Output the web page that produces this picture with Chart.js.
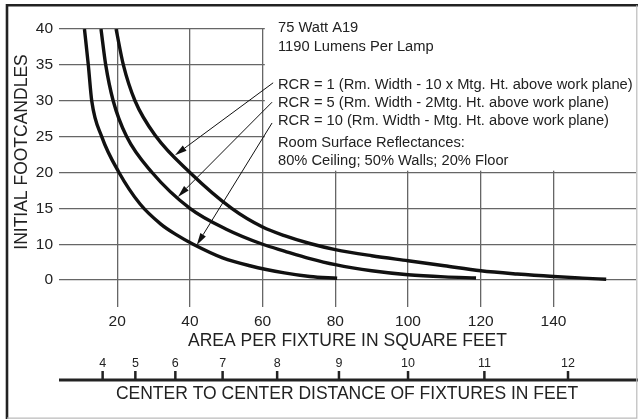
<!DOCTYPE html>
<html>
<head>
<meta charset="utf-8">
<script src="https://cdn.jsdelivr.net/npm/chart.js@4.4.0/dist/chart.umd.min.js"></script>
<style>
    html, body { margin: 0; padding: 0; background: #fff; }
    canvas { display: block; }
</style>
</head>
<body>
<canvas id="footcandleChart" width="638" height="419"></canvas>
<script>
// curves (y is in plot units: the gridline labelled "0" sits at 5)
const areaRcr1 = [19.7, 21.7, 24.9, 30.7, 40, 51.5, 60, 66, 73, 80, 90, 100, 110, 120, 130, 140, 148, 154.5];
const fcRcr1 = [40, 35, 30, 25, 20, 15, 12.4, 11.2, 10.1, 9.25, 8.4, 7.7, 7.0, 6.3, 5.85, 5.5, 5.28, 5.12];

const areaRcr5 = [15.55, 16.85, 18.9, 22.6, 29.6, 40, 50, 60, 66, 73, 80, 90, 100, 110, 118.7];
const fcRcr5 = [40, 35, 30, 25, 20, 15, 12.1, 10, 9.05, 8.0, 7.15, 6.3, 5.75, 5.45, 5.3];

const areaRcr10 = [11, 12.06, 13, 15.75, 20.5, 26.3, 32, 36, 40.9, 49, 56.5, 66, 73, 80.5];
const fcRcr10 = [40, 35, 30, 25, 20, 15.6, 12.8, 11.4, 10, 8.1, 7.0, 6.0, 5.5, 5.25];

const areaTicks = [20, 40, 60, 80, 100, 120, 140];
const fcTicks = [5, 10, 15, 20, 25, 30, 35, 40];
const fcTickLabels = ['0', '10', '15', '20', '25', '30', '35', '40'];
const spacingTicks = [4, 5, 6, 7, 8, 9, 10, 11, 12];

const noteLines = [
    '75 Watt A19',
    '1190 Lumens Per Lamp',
    'RCR = 1 (Rm. Width - 10 x Mtg. Ht. above work plane)',
    'RCR = 5 (Rm. Width - 2Mtg. Ht. above work plane)',
    'RCR = 10 (Rm. Width - Mtg. Ht. above work plane)',
    'Room Surface Reflectances:',
    '80% Ceiling; 50% Walls; 20% Floor'
];

// arrows from the RCR notes to the curves: [fromX, fromY, toX, toY] in data units
const arrowLinks = [
    [62.9, 32.5, 35.9, 22.4],
    [62.6, 29.8, 36.7, 16.6],
    [62.6, 26.9, 41.9, 9.9]
];

const FONT = '"Liberation Sans", Arial, sans-serif';

function toPoints(xs, ys) {
    return xs.map((x, i) => ({ x: x, y: ys[i] }));
}

const chartDecor = {
    id: 'chartDecor',
    beforeDatasetsDraw(chart) {
        // white panel behind the notes hides the grid in the upper right
        const ctx = chart.ctx;
        const a = chart.chartArea;
        const x = chart.scales.x;
        const y = chart.scales.y;
        const left = x.getPixelForValue(60.6);
        const bottom = y.getPixelForValue(20.25);
        ctx.save();
        ctx.fillStyle = '#fff';
        ctx.fillRect(left, a.top - 3, a.right - left + 3, bottom - a.top + 3);
        ctx.restore();
    },
    afterDatasetsDraw(chart) {
        const ctx = chart.ctx;
        const x = chart.scales.x;
        const y = chart.scales.y;
        ctx.save();
        ctx.strokeStyle = '#111';
        ctx.fillStyle = '#111';
        ctx.lineWidth = 1;
        arrowLinks.forEach((l) => {
            const x1 = x.getPixelForValue(l[0]), y1 = y.getPixelForValue(l[1]);
            const x2 = x.getPixelForValue(l[2]), y2 = y.getPixelForValue(l[3]);
            const ang = Math.atan2(y2 - y1, x2 - x1);
            const len = 12, hw = 3.2;
            ctx.beginPath();
            ctx.moveTo(x1, y1);
            ctx.lineTo(x2 - Math.cos(ang) * len, y2 - Math.sin(ang) * len);
            ctx.stroke();
            ctx.beginPath();
            ctx.moveTo(x2, y2);
            ctx.lineTo(x2 - Math.cos(ang) * len - Math.sin(ang) * hw, y2 - Math.sin(ang) * len + Math.cos(ang) * hw);
            ctx.lineTo(x2 - Math.cos(ang) * len + Math.sin(ang) * hw, y2 - Math.sin(ang) * len - Math.cos(ang) * hw);
            ctx.closePath();
            ctx.fill();
        });
        ctx.restore();
    },
    afterDraw(chart) {
        const ctx = chart.ctx;
        const a = chart.chartArea;
        const x = chart.scales.x;
        ctx.save();

        // notes
        ctx.fillStyle = '#222';
        ctx.font = '14.7px ' + FONT;
        ctx.textAlign = 'left';
        ctx.textBaseline = 'alphabetic';
        const baselines = [32.3, 50.7, 89, 107, 125, 147, 165];
        noteLines.forEach((t, i) => ctx.fillText(t, 278, baselines[i]));

        // y title
        ctx.save();
        ctx.translate(22, 152);
        ctx.rotate(-Math.PI / 2);
        ctx.font = '17.5px ' + FONT;
        ctx.textAlign = 'center';
        ctx.textBaseline = 'middle';
        ctx.fillText('INITIAL FOOTCANDLES', 0, 0);
        ctx.restore();

        // center-to-center spacing axis, placed at spacing squared on the area scale
        const axisY = 380;
        ctx.strokeStyle = '#222';
        ctx.lineWidth = 3;
        ctx.beginPath();
        ctx.moveTo(a.left, axisY);
        ctx.lineTo(chart.width, axisY);
        ctx.stroke();
        ctx.lineWidth = 2.5;
        ctx.font = '12.5px ' + FONT;
        ctx.textAlign = 'center';
        ctx.textBaseline = 'middle';
        spacingTicks.forEach((d) => {
            const px = x.getPixelForValue(d * d);
            ctx.beginPath();
            ctx.moveTo(px, axisY - 9);
            ctx.lineTo(px, axisY);
            ctx.stroke();
            ctx.fillText(String(d), px, 364);
        });
        ctx.font = '17.5px ' + FONT;
        ctx.fillText('CENTER TO CENTER DISTANCE OF FIXTURES IN FEET', 347, 394);

        // frame
        ctx.strokeStyle = '#222';
        ctx.lineWidth = 2.6;
        ctx.beginPath();
        ctx.moveTo(7, chart.height);
        ctx.lineTo(7, 5.3);
        ctx.lineTo(chart.width, 5.3);
        ctx.stroke();
        ctx.strokeStyle = '#bbb';
        ctx.lineWidth = 1.2;
        ctx.beginPath();
        ctx.moveTo(7, chart.height - 0.8);
        ctx.lineTo(chart.width - 1.2, chart.height - 0.8);
        ctx.lineTo(chart.width - 1.2, 5.3);
        ctx.stroke();
        ctx.restore();
    }
};

const curveStyle = {
    borderColor: '#111',
    borderWidth: 3.4,
    pointRadius: 0,
    fill: false,
    cubicInterpolationMode: 'monotone'
};

const ctx = document.getElementById('footcandleChart').getContext('2d');
new Chart(ctx, {
    type: 'line',
    data: {
        datasets: [
            Object.assign({ label: 'RCR = 1', data: toPoints(areaRcr1, fcRcr1) }, curveStyle),
            Object.assign({ label: 'RCR = 5', data: toPoints(areaRcr5, fcRcr5) }, curveStyle),
            Object.assign({ label: 'RCR = 10', data: toPoints(areaRcr10, fcRcr10) }, curveStyle)
        ]
    },
    options: {
        responsive: false,
        animation: false,
        devicePixelRatio: 1,
        layout: { padding: { top: 29, right: 2, bottom: 0, left: 0 } },
        plugins: {
            legend: { display: false },
            tooltip: { enabled: false }
        },
        scales: {
            x: {
                type: 'linear',
                min: 4,
                max: 162.7,
                afterBuildTicks: (scale) => { scale.ticks = areaTicks.map(v => ({ value: v })); },
                afterFit: (scale) => { scale.height = 112; },
                border: { display: false },
                grid: { color: '#666', lineWidth: 1.3, drawTicks: false },
                ticks: {
                    padding: 5,
                    color: '#222',
                    font: { family: FONT, size: 15.5 }
                },
                title: {
                    display: true,
                    text: 'AREA PER FIXTURE IN SQUARE FEET',
                    color: '#222',
                    font: { family: FONT, size: 17.5 },
                    padding: { top: 0, bottom: 67 }
                }
            },
            y: {
                type: 'linear',
                min: 1.25,
                max: 40,
                afterBuildTicks: (scale) => { scale.ticks = fcTicks.map(v => ({ value: v })); },
                afterFit: (scale) => { scale.width = 59; },
                border: { display: false },
                grid: { color: '#666', lineWidth: 1.3, drawTicks: false },
                ticks: {
                    padding: 6,
                    color: '#222',
                    font: { family: FONT, size: 15.5 },
                    callback: function (value) {
                        const i = fcTicks.indexOf(value);
                        return i === -1 ? '' : fcTickLabels[i];
                    }
                }
            }
        }
    },
    plugins: [chartDecor]
});
</script>
</body>
</html>
